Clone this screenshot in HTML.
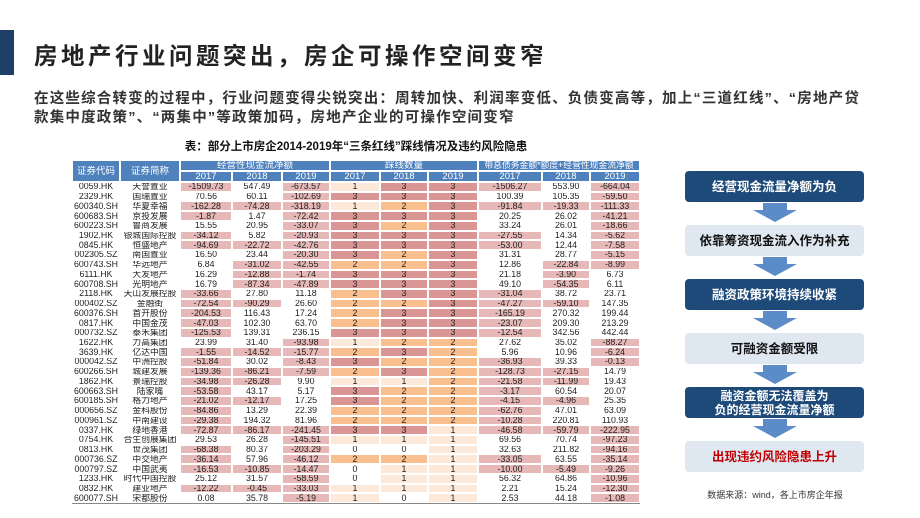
<!DOCTYPE html>
<html><head><meta charset="utf-8">
<style>
*{margin:0;padding:0;box-sizing:border-box}
body{width:920px;height:518px;background:#fff;position:relative;overflow:hidden;font-family:"Liberation Sans","Noto Sans CJK SC",sans-serif}
.abs{position:absolute}
#bar{left:0;top:30px;width:14px;height:45px;background:#1f3f66}
#title{left:34px;top:37px;font-size:23.5px;font-weight:bold;color:#222;white-space:nowrap;letter-spacing:3.5px}
.sub{left:34px;font-size:14.5px;font-weight:bold;color:#333;white-space:nowrap;letter-spacing:1.2px}
#cap{left:72px;width:568px;top:138px;text-align:center;font-size:11.5px;font-weight:bold;color:#111}
.c{position:absolute;font-size:8.8px;line-height:9px;text-align:center;color:#222;border:1px solid #fff;display:flex;align-items:center;justify-content:center;white-space:nowrap;overflow:hidden}
.h{background:#4f81bd;color:#fff;font-size:9.5px}
.box{position:absolute;left:685px;width:179px;height:31px;border-radius:4px;display:flex;align-items:center;justify-content:center;text-align:center;font-size:12.5px;font-weight:bold;line-height:14px}
.dark{background:#1d4a78;color:#fff}
.light{background:#dfe7f1;color:#111}
#src{left:660px;width:230px;top:488px;text-align:center;font-size:9px;color:#333}
</style></head><body>
<div id="bar" class="abs"></div>
<div id="title" class="abs">房地产行业问题突出，房企可操作空间变窄</div>
<div class="abs sub" style="top:87px">在这些综合转变的过程中，行业问题变得尖锐突出：周转加快、利润率变低、负债变高等，加上“三道红线”、“房地产贷</div>
<div class="abs sub" style="top:106px">款集中度政策”、“两集中”等政策加码，房地产企业的可操作空间变窄</div>
<div id="cap" class="abs">表：部分上市房企2014-2019年“三条红线”踩线情况及违约风险隐患</div>
<div id="tbl" class="abs" style="left:0;top:0"></div>

<div class="box dark" style="top:171px">经营现金流量净额为负</div>
<div class="box light" style="top:225px">依靠筹资现金流入作为补充</div>
<div class="box dark" style="top:279px">融资政策环境持续收紧</div>
<div class="box light" style="top:333px">可融资金额受限</div>
<div class="box dark" style="top:387px;font-size:12px">融资金额无法覆盖为<br>负的经营现金流量净额</div>
<div class="box light" style="top:441px;color:#c00000">出现违约风险隐患上升</div>
<svg class="abs" style="left:0;top:0" width="920" height="518">
<g fill="#5b8cc7">
<polygon points="763,203 787,203 787,210 797,210 775,222 753,210 763,210"/>
<polygon points="763,257 787,257 787,264 797,264 775,276 753,264 763,264"/>
<polygon points="763,311 787,311 787,318 797,318 775,330 753,318 763,318"/>
<polygon points="763,365 787,365 787,372 797,372 775,384 753,372 763,372"/>
<polygon points="763,419 787,419 787,426 797,426 775,438 753,426 763,426"/>
</g></svg>
<div id="src" class="abs">数据来源：wind，各上市房企年报</div>

<script>
const codes=["0059.HK","2329.HK","600340.SH","600683.SH","600223.SH","1902.HK","0845.HK","002305.SZ","600743.SH","6111.HK","600708.SH","2118.HK","000402.SZ","600376.SH","0817.HK","000732.SZ","1622.HK","3639.HK","000042.SZ","600266.SH","1862.HK","600663.SH","600185.SH","000656.SZ","000961.SZ","0337.HK","0754.HK","0813.HK","000736.SZ","000797.SZ","1233.HK","0832.HK","600077.SH"];
const names=["天誉置业","国瑞置业","华夏幸福","京投发展","鲁商发展","银城国际控股","恒盛地产","南国置业","华远地产","大发地产","光明地产","天山发展控股","金融街","首开股份","中国金茂","泰禾集团","力高集团","亿达中国","中洲控股","城建发展","景瑞控股","陆家嘴","格力地产","金科股份","中南建设","绿地香港","合生创展集团","世茂集团","中交地产","中国武夷","时代中国控股","建业地产","宋都股份"];
const cf2017=[-1509.73,70.56,-162.28,-1.87,15.55,-34.12,-94.69,16.50,6.84,16.29,16.79,-33.66,-72.54,-204.53,-47.03,-125.53,23.99,-1.55,-51.84,-139.36,-34.98,-53.58,-21.02,-84.86,-29.38,-72.87,29.53,-68.38,-36.14,-16.53,25.12,-12.22,0.08];
const cf2018=[547.49,60.11,-74.28,1.47,20.95,5.82,-22.72,23.44,-31.02,-12.88,-87.34,27.80,-90.29,116.43,102.30,139.31,31.40,-14.52,30.02,-86.21,-26.28,43.17,-12.17,13.29,194.32,-86.17,26.28,80.37,57.96,-10.85,31.57,-0.45,35.78];
const cf2019=[-673.57,-102.69,-318.19,-72.42,-33.07,-20.93,-42.76,-20.30,-42.55,-1.74,-47.89,11.18,26.60,17.24,63.70,236.15,-93.98,-15.77,-8.43,-7.59,9.90,5.17,17.25,22.39,81.96,-241.45,-145.51,-203.29,-46.12,-14.47,-58.59,-33.03,-5.19];
const n2017=[1,3,1,3,3,3,3,3,2,3,3,2,2,2,2,3,1,2,3,2,1,3,3,2,2,3,1,0,2,0,0,1,1];
const n2018=[3,3,2,3,2,3,3,2,2,3,3,3,2,3,3,3,2,3,2,3,1,2,2,2,2,3,1,0,2,1,1,1,0];
const n2019=[3,3,3,3,3,3,3,3,3,3,3,3,3,3,3,3,2,2,2,2,2,2,2,2,2,1,1,1,1,1,1,1,1];
const d2017=[-1506.27,100.39,-91.84,20.25,33.24,-27.55,-53.00,31.31,12.86,21.18,49.10,-31.04,-47.27,-165.19,-23.07,-12.54,27.62,5.96,-36.93,-128.73,-21.58,-3.17,-4.15,-62.76,-10.28,-46.58,69.56,32.63,-33.05,-10.00,56.32,2.21,2.53];
const d2018=[553.90,105.35,-19.33,26.02,26.01,14.34,12.44,28.77,-22.84,-3.90,-54.35,38.72,-59.10,270.32,209.30,342.56,35.02,10.96,39.33,-27.15,-11.99,60.54,-4.96,47.01,220.81,-59.79,70.74,211.82,63.55,-5.49,64.86,15.24,44.18];
const d2019=[-664.04,-59.50,-111.33,-41.21,-18.66,-5.62,-7.58,-5.15,-8.99,6.73,6.11,23.71,147.35,199.44,213.29,442.44,-88.27,-6.24,-0.13,14.79,19.43,20.07,25.35,63.09,110.93,-222.95,-97.23,-94.16,-35.14,-9.26,-10.96,-12.30,-1.08];

const tbl=document.getElementById('tbl');
const xs=[72,120,180,232,282,330,380,428,478,542,590,640];
const top0=160,hh=11,rh=9.73;
const cntColor=['#ffffff','#fde9d9','#fabf8f','#da9694'];
function cell(x0,x1,y,h,txt,bg,cls,name){
  const d=document.createElement('div');
  d.className='c'+(cls?' '+cls:'');
  d.style.left=x0+'px';d.style.top=y+'px';d.style.width=(x1-x0)+'px';d.style.height=h+'px';
  if(bg)d.style.background=bg;
  d.textContent=txt;
  
  
  tbl.appendChild(d);
  return d;
}
cell(xs[0],xs[1],top0,hh*2,'证券代码','', 'h','header-code');
cell(xs[1],xs[2],top0,hh*2,'证券简称','', 'h','header-name');
cell(xs[2],xs[5],top0,hh,'经营性现金流净额','', 'h','header-cashflow');
cell(xs[5],xs[8],top0,hh,'踩线数量','', 'h','header-redline-count');
const lastHdr=cell(xs[8],xs[11],top0,hh,'带息债务金额*额度+经营性现金流净额','', 'h','header-debt-cashflow');
lastHdr.style.fontSize='8.8px';
const yrs=['2017','2018','2019'];
for(let g=0;g<3;g++)for(let k=0;k<3;k++){
  cell(xs[2+g*3+k],xs[3+g*3+k],top0+hh,hh,yrs[k],'','h','header-year');
}
const series=[cf2017,cf2018,cf2019,n2017,n2018,n2019,d2017,d2018,d2019];
for(let i=0;i<codes.length;i++){
  const y=top0+hh*2+i*rh;
  cell(xs[0],xs[1],y,rh,codes[i],'', '','row-code');
  cell(xs[1],xs[2],y,rh,names[i],'', '','row-name');
  series.forEach((s,j)=>{
    const v=s[i];let txt,bg;
    if(j>=3&&j<6){txt=String(v);bg=cntColor[v];}
    else{txt=v.toFixed(2);bg=v<0?'#e6b9b8':'#ffffff';}
    cell(xs[2+j],xs[3+j],y,rh,txt,bg,'','data-cell');
  });
}
const ln=document.createElement('div');
ln.className='abs';
ln.style.cssText='left:72px;width:568px;height:1px;background:#888;top:'+(top0+hh*2+codes.length*rh)+'px';


tbl.appendChild(ln);
</script>
</body></html>
